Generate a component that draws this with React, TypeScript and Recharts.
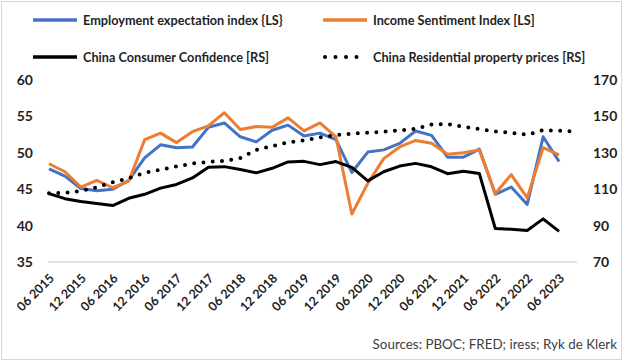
import React from 'react';
import { LineChart, Line, XAxis, YAxis } from 'recharts';

const categories = [
  '06 2015', '09 2015', '12 2015', '03 2016', '06 2016', '09 2016', '12 2016', '03 2017',
  '06 2017', '09 2017', '12 2017', '03 2018', '06 2018', '09 2018', '12 2018', '03 2019',
  '06 2019', '09 2019', '12 2019', '03 2020', '06 2020', '09 2020', '12 2020', '03 2021',
  '06 2021', '09 2021', '12 2021', '03 2022', '06 2022', '09 2022', '12 2022', '03 2023',
  '06 2023', '09 2023',
];

const employmentIndex = [
  47.8, 46.8, 45.1, 44.8, 45.0, 46.2, 49.3, 51.1, 50.7, 50.8, 53.5, 54.1, 52.2, 51.5, 53.1, 53.8,
  52.3, 52.7, 51.8, 47.3, 50.1, 50.4, 51.3, 53.0, 52.4, 49.4, 49.4, 50.5, 44.3, 45.3, 42.9, 52.2,
  48.8, null,
];

const incomeSentiment = [
  48.5, 47.4, 45.3, 46.2, 45.2, 46.1, 51.8, 52.7, 51.4, 52.9, 53.7, 55.5, 53.2, 53.6, 53.5, 54.8,
  53.0, 54.1, 52.2, 41.6, 45.8, 49.2, 50.8, 51.7, 51.3, 49.8, 50.0, 50.4, 44.4, 47.0, 43.8, 50.7,
  49.7, null,
];

const consumerConfidence = [
  107.6, 104.8, 103.2, 102.2, 101.0, 105.0, 107.2, 110.6, 112.6, 116.2, 122.1, 122.4, 120.8, 119.0,
  121.5, 125.0, 125.3, 123.5, 125.2, 122.0, 114.6, 119.6, 122.7, 124.2, 122.3, 118.5, 119.9, 118.6,
  88.4, 88.0, 87.3, 93.7, 86.8, null,
];

const propertyPrices = [
  107.8, 108.1, 109.0, 111.0, 113.8, 116.0, 119.0, 120.7, 122.5, 124.1, 125.0, 125.6, 127.1, 131.5,
  133.7, 135.7, 136.8, 138.5, 139.7, 140.5, 141.0, 141.6, 142.3, 143.2, 145.6, 145.8, 144.3, 143.0,
  141.8, 141.0, 139.9, 142.5, 142.1, 141.6,
];

const leftTicks = [35, 40, 45, 50, 55, 60];
const rightTicks = [70, 90, 110, 130, 150, 170];

const seriesNames = [
  'Employment expectation index {LS}',
  'Income Sentiment Index [LS]',
  'China Consumer Confidence [RS]',
  'China Residential property prices [RS]',
];
const sourceText = 'Sources: PBOC; FRED; iress; Ryk de Klerk';

const data = categories.map((c, i) => ({
  cat: c,
  emp: employmentIndex[i],
  inc: incomeSentiment[i],
  cc: consumerConfidence[i],
  pp: propertyPrices[i],
}));

const FONT = 'Lato, "Open Sans", Arial, sans-serif';
const TEXT = '#1f1f1f';
const BLUE = '#4472C4';
const ORANGE = '#ED7D31';

const XTick = (props: any) => {
  const { x, y, payload } = props;
  const ax = x + 6;
  const ay = y;
  return (
    <text
      x={ax}
      y={ay}
      textAnchor="end"
      transform={`rotate(-45 ${ax} ${ay})`}
      fontFamily={FONT}
      fontSize={12.5}
      fontWeight="bold"
      fill={TEXT}
    >
      {payload.value}
    </text>
  );
};

const Sample = ({ color, dotted }: { color: string; dotted?: boolean }) => (
  <svg width={46} height={8} style={{ display: 'block' }}>
    {dotted ? (
      <line x1={2} y1={4} x2={44} y2={4} stroke={color} strokeWidth={4} strokeLinecap="round" strokeDasharray="0 10.5" />
    ) : (
      <line x1={0} y1={4} x2={44} y2={4} stroke={color} strokeWidth={3.5} />
    )}
  </svg>
);

const LegendItem = ({ left, top, color, dotted, label }: any) => (
  <div style={{ position: 'absolute', left, top, display: 'flex', alignItems: 'center', height: 16 }}>
    <Sample color={color} dotted={dotted} />
    <span
      style={{
        marginLeft: 4,
        fontFamily: FONT,
        fontWeight: 'bold',
        fontSize: 12.7,
        color: TEXT,
        whiteSpace: 'nowrap',
        lineHeight: '16px',
      }}
    >
      {label}
    </span>
  </div>
);

export default function App() {
  const tickStyle = { fontFamily: FONT, fontSize: 14, fontWeight: 'bold', fill: TEXT };
  return (
    <div style={{ position: 'absolute', left: 0, top: 0, width: 623, height: 361, background: '#fff', overflow: 'hidden' }}>
      <div
        style={{
          position: 'absolute',
          left: 1,
          top: 1,
          width: 621,
          height: 359,
          border: '1.5px solid #d6d6d6',
          boxSizing: 'border-box',
        }}
      />
      <LineChart width={623} height={361} data={data} margin={{ top: 80, right: 0, bottom: 0, left: 0 }}>
        <XAxis
          dataKey="cat"
          interval={1}
          tickLine={false}
          axisLine={{ stroke: '#d9d9d9', strokeWidth: 1.5 }}
          tickSize={0}
          tickMargin={17}
          height={99}
          padding={{ left: 1, right: 2 }}
          tick={<XTick />}
        />
        <YAxis
          yAxisId="left"
          domain={[35, 60]}
          ticks={leftTicks}
          axisLine={false}
          tickLine={false}
          tickSize={0}
          tickMargin={15}
          width={48}
          tick={tickStyle}
        />
        <YAxis
          yAxisId="right"
          orientation="right"
          domain={[70, 170]}
          ticks={rightTicks}
          axisLine={false}
          tickLine={false}
          tickSize={0}
          tickMargin={16}
          width={46}
          tick={{ ...tickStyle, textAnchor: 'start' }}
        />
        <Line yAxisId="left" dataKey="emp" name={seriesNames[0]} stroke={BLUE} strokeWidth={3} dot={false} isAnimationActive={false} strokeLinejoin="round" />
        <Line yAxisId="left" dataKey="inc" name={seriesNames[1]} stroke={ORANGE} strokeWidth={3} dot={false} isAnimationActive={false} strokeLinejoin="round" />
        <Line yAxisId="right" dataKey="cc" name={seriesNames[2]} stroke="#000" strokeWidth={3} dot={false} isAnimationActive={false} strokeLinejoin="round" />
        <Line
          yAxisId="right"
          dataKey="pp"
          name={seriesNames[3]}
          stroke="#000"
          strokeWidth={4}
          strokeDasharray="0 9.3"
          strokeLinecap="round"
          dot={false}
          isAnimationActive={false}
        />
      </LineChart>
      <LegendItem left={33} top={12} color={BLUE} label={seriesNames[0]} />
      <LegendItem left={323} top={12} color={ORANGE} label={seriesNames[1]} />
      <LegendItem left={33} top={49} color="#000" label={seriesNames[2]} />
      <LegendItem left={323} top={49} color="#000" dotted label={seriesNames[3]} />
      <div
        style={{
          position: 'absolute',
          right: 6,
          top: 336,
          fontFamily: FONT,
          fontSize: 13.4,
          color: '#404040',
          whiteSpace: 'nowrap',
        }}
      >
        {sourceText}
      </div>
    </div>
  );
}
